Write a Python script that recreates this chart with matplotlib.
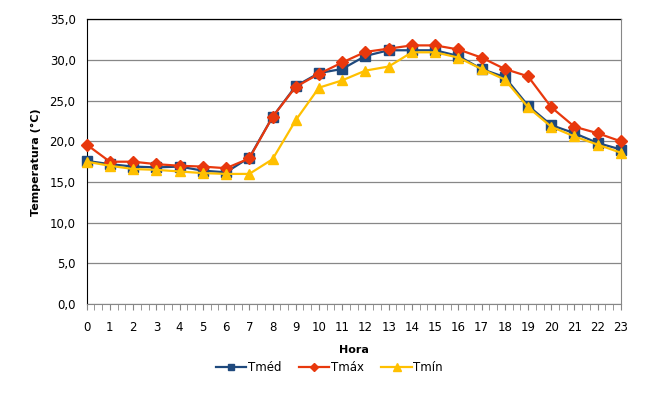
import matplotlib
matplotlib.use("Agg")
import matplotlib.pyplot as plt
from matplotlib.ticker import MultipleLocator, FuncFormatter

horas = list(range(24))
tmed = [17.6, 17.2, 16.9, 16.8, 16.9, 16.4, 16.2, 18.0, 23.0, 26.8, 28.4, 28.9,
        30.5, 31.2, 31.2, 31.2, 30.5, 28.9, 27.9, 24.4, 22.0, 21.0, 19.8, 19.0]
tmax = [19.6, 17.5, 17.5, 17.2, 17.0, 16.9, 16.7, 17.9, 23.0, 26.7, 28.3, 29.7,
        31.0, 31.4, 31.8, 31.8, 31.3, 30.3, 28.9, 28.0, 24.2, 21.8, 21.0, 20.0]
tmin = [17.5, 17.0, 16.6, 16.5, 16.3, 16.1, 16.0, 16.0, 17.8, 22.6, 26.6, 27.5,
        28.7, 29.2, 30.95, 30.95, 30.3, 28.9, 27.6, 24.2, 21.8, 20.6, 19.6, 18.6]

plt.rcParams['font.family'] = ['DejaVu Sans']
fig = plt.figure(figsize=(6.72, 4.12), dpi=100)
ax = fig.add_axes([0.129, 0.262, 0.795, 0.691])

ax.plot(horas, tmed, color='#1F497D', marker='s', markersize=6.5, lw=1.6, label='Tméd', zorder=3, clip_on=False)
ax.plot(horas, tmax, color='#E8380D', marker='D', markersize=6, lw=1.6, label='Tmáx', zorder=4, clip_on=False)
ax.plot(horas, tmin, color='#FFC000', marker='^', markersize=7, lw=1.6, label='Tmín', zorder=5, clip_on=False)

ax.set_xlim(0, 23)
ax.set_ylim(0, 35)
ax.yaxis.set_major_locator(MultipleLocator(5))
ax.yaxis.set_major_formatter(FuncFormatter(lambda v, p: f"{v:.1f}".replace('.', ',')))
ax.xaxis.set_major_locator(MultipleLocator(1))
ax.xaxis.set_minor_locator(MultipleLocator(1/3))
ax.grid(axis='y', color='#878787', lw=0.9, zorder=0)
ax.set_axisbelow(True)

ax.spines['top'].set_visible(False)
ax.axhline(35, color='black', lw=0.9, clip_on=False, zorder=1)
ax.spines['left'].set_color('black')
ax.spines['bottom'].set_color('#878787')
ax.spines['right'].set_color('#878787')
ax.tick_params(axis='y', length=0, labelsize=8.5, pad=8)
ax.tick_params(axis='x', which='major', direction='out', length=4, color='#878787', labelsize=8.5, pad=8)
ax.tick_params(axis='x', which='minor', direction='out', length=4, color='#878787')

ax.set_ylabel('Temperatura (°C)', fontsize=8, fontweight='bold', labelpad=6)
ax.set_xlabel('Hora', fontsize=8, fontweight='bold', labelpad=8)

leg = fig.legend(loc='center', bbox_to_anchor=(0.49, 0.108), ncol=3, frameon=False,
                 fontsize=8.5, handlelength=2.6, handletextpad=0.1, columnspacing=1.5,
                 markerscale=0.75)
fig.savefig('out.png', dpi=100)
